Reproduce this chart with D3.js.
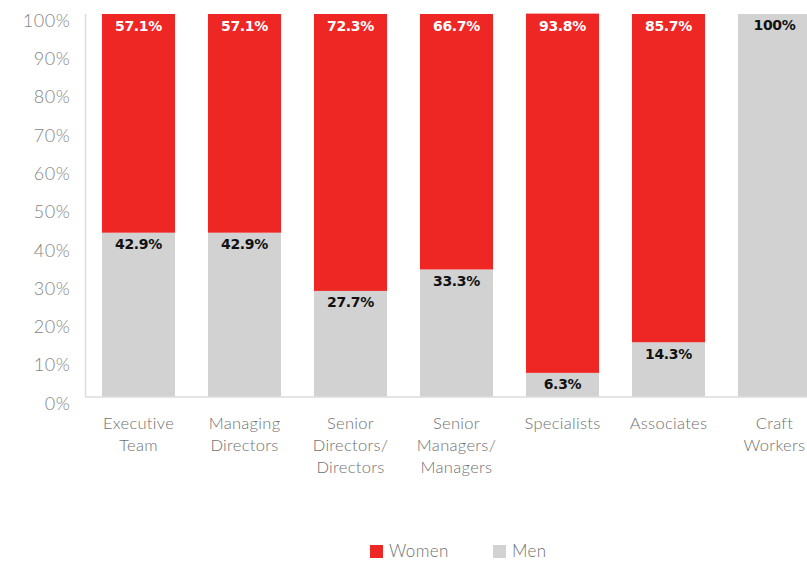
<!DOCTYPE html>
<html>
<head>
<meta charset="utf-8">
<script src="https://cdn.jsdelivr.net/npm/d3@7"></script>
<style>
  body { margin: 0; background: #fff; }
  svg { display: block; }
</style>
</head>
<body>
<div class="chart"></div>
<script>
const categories = ["Executive\nTeam", "Managing\nDirectors", "Senior\nDirectors/\nDirectors",
  "Senior\nManagers/\nManagers", "Specialists", "Associates", "Craft\nWorkers"];
const women = [57.1, 57.1, 72.3, 66.7, 93.8, 85.7, 0];
const men = [42.9, 42.9, 27.7, 33.3, 6.3, 14.3, 100];
const yTicks = [0, 10, 20, 30, 40, 50, 60, 70, 80, 90, 100];
const seriesNames = ["Women", "Men"];

const colors = {Women: "#ee2624", Men: "#d2d2d2"};
const width = 807, height = 561;
const plotTop = 14, plotBottom = 397, plotLeft = 85.5;

const data = categories.map((c, i) => ({cat: c, Women: women[i], Men: men[i]}));

const svg = d3.select(".chart").append("svg")
  .attr("width", width)
  .attr("height", height);

const xScale = d3.scaleBand()
  .domain(categories)
  .range([plotLeft, plotLeft + 106 * 7])
  .paddingInner(0.311)
  .paddingOuter(0.1555);

const yScale = d3.scaleLinear()
  .domain([0, 100])
  .range([plotBottom, plotTop]);

const stack = d3.stack().keys(["Men", "Women"]);
const layers = stack(data);

// bars
svg.append("g")
  .selectAll("g")
  .data(layers)
  .join("g")
  .attr("fill", d => colors[d.key])
  .selectAll("rect")
  .data(d => d)
  .join("rect")
  .attr("x", d => xScale(d.data.cat))
  .attr("y", d => yScale(d[1]))
  .attr("width", xScale.bandwidth())
  .attr("height", d => yScale(d[0]) - yScale(d[1]));

// axis lines
svg.append("line")
  .attr("x1", plotLeft).attr("x2", plotLeft)
  .attr("y1", plotTop).attr("y2", plotBottom)
  .attr("stroke", "#dcdcdc").attr("stroke-width", 1.5);
svg.append("line")
  .attr("x1", plotLeft).attr("x2", width)
  .attr("y1", plotBottom).attr("y2", plotBottom)
  .attr("stroke", "#dcdcdc").attr("stroke-width", 1.5);

// y axis
svg.append("g")
  .attr("transform", `translate(${plotLeft}, 0)`)
  .call(d3.axisLeft(yScale).tickValues(yTicks).tickSize(0).tickPadding(15).tickFormat(d => d + "%"))
  .call(g => g.select(".domain").remove())
  .call(g => g.selectAll(".tick text")
    .attr("font-family", "Lato, sans-serif")
    .attr("font-weight", 300)
    .attr("font-size", 18)
    .attr("fill", "#858585")
    .attr("letter-spacing", 0.6)
    .attr("dy", "0.68em"));

// x axis labels
const xAxis = svg.append("g")
  .attr("transform", `translate(0, ${plotBottom})`)
  .call(d3.axisBottom(xScale).tickSize(0).tickFormat(""))
  .call(g => g.select(".domain").remove());

xAxis.selectAll(".tick")
  .append("text")
  .attr("font-family", "Lato, sans-serif")
  .attr("font-weight", 300)
  .attr("font-size", 16.5)
  .attr("fill", "#707070")
  .attr("text-anchor", "middle")
  .attr("letter-spacing", 0.3)
  .each(function(d) {
    const t = d3.select(this);
    d.split("\n").forEach((line, i) => {
      t.append("tspan").attr("x", 0).attr("y", 32 + i * 22).text(line);
    });
  });

// value labels
const labelFont = "'DejaVu Sans', sans-serif";
svg.append("g")
  .selectAll("text")
  .data(data.filter(d => d.Women > 0))
  .join("text")
  .attr("x", d => xScale(d.cat) + xScale.bandwidth() / 2)
  .attr("y", yScale(100) + 12)
  .attr("dy", "0.35em")
  .attr("text-anchor", "middle")
  .attr("font-family", labelFont)
  .attr("font-weight", "bold")
  .attr("font-size", 14)
  .attr("letter-spacing", -0.3)
  .attr("fill", "#fff")
  .text(d => d.Women + "%");

svg.append("g")
  .selectAll("text")
  .data(data)
  .join("text")
  .attr("x", d => xScale(d.cat) + xScale.bandwidth() / 2)
  .attr("y", d => yScale(d.Men) + 11.5)
  .attr("dy", "0.35em")
  .attr("text-anchor", "middle")
  .attr("font-family", labelFont)
  .attr("font-weight", "bold")
  .attr("font-size", 14)
  .attr("letter-spacing", -0.3)
  .attr("fill", "#111")
  .text(d => d.Men + "%");

// legend
const legend = svg.append("g")
  .attr("transform", "translate(370, 545)");
const legendX = d3.scaleOrdinal().domain(seriesNames).range([0, 123]);
const items = legend.selectAll("g")
  .data(seriesNames)
  .join("g")
  .attr("transform", d => `translate(${legendX(d)}, 0)`);
items.append("rect")
  .attr("width", 13).attr("height", 13)
  .attr("fill", d => colors[d]);
items.append("text")
  .attr("x", 19).attr("y", 6.5)
  .attr("dy", "0.35em")
  .attr("font-family", "Lato, sans-serif")
  .attr("font-weight", 300)
  .attr("font-size", 17)
  .attr("fill", "#707070")
  .attr("letter-spacing", 0.4)
  .text(d => d);
</script>
</body>
</html>
